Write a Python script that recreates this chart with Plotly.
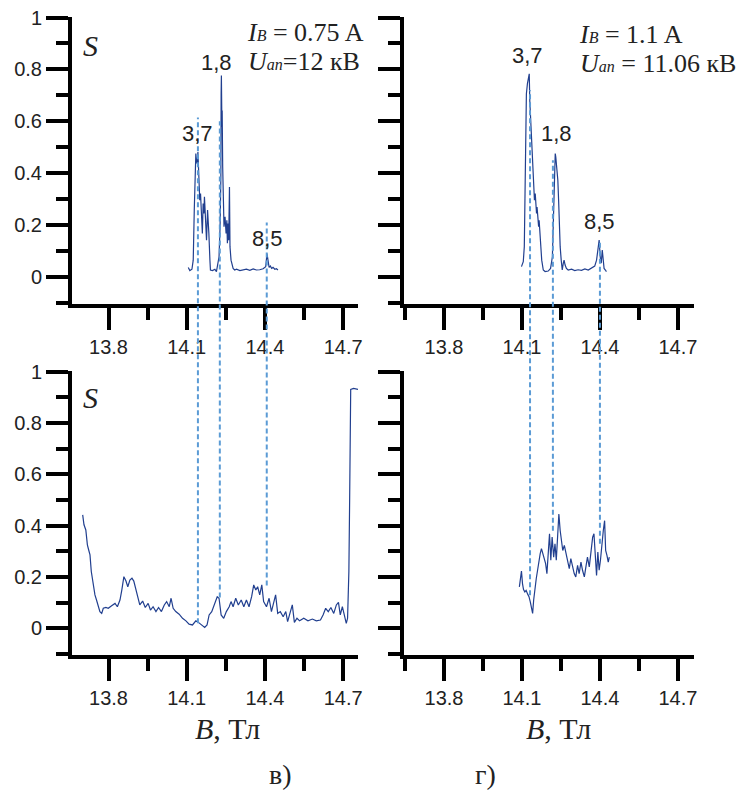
import plotly.graph_objects as go

# spectra, B in T, S relative
top_left_b = [14.106, 14.112, 14.120, 14.125, 14.129, 14.132, 14.135, 14.137, 14.140, 14.143,
              14.145, 14.148, 14.150, 14.153, 14.155, 14.158, 14.160, 14.163, 14.166, 14.168,
              14.172, 14.176, 14.180, 14.182, 14.185, 14.189, 14.191, 14.199, 14.208, 14.214,
              14.219, 14.224, 14.228, 14.231, 14.232, 14.233, 14.235, 14.236, 14.238, 14.241,
              14.243, 14.247, 14.251, 14.254, 14.256, 14.259, 14.261, 14.264, 14.266, 14.270,
              14.274, 14.278, 14.284, 14.291, 14.304, 14.316, 14.329, 14.342, 14.355, 14.367,
              14.380, 14.393, 14.403, 14.408, 14.412, 14.416, 14.421, 14.426, 14.431, 14.438,
              14.444, 14.450]
top_left_s = [0.037, 0.025, 0.030, 0.065, 0.258, 0.424, 0.476, 0.450, 0.437, 0.482,
              0.412, 0.347, 0.296, 0.322, 0.283, 0.232, 0.168, 0.283, 0.245, 0.309,
              0.219, 0.142, 0.258, 0.232, 0.168, 0.065, 0.027, 0.025, 0.030, 0.021,
              0.046, 0.078, 0.194, 0.386, 0.706, 0.777, 0.578, 0.642, 0.424, 0.335,
              0.194, 0.232, 0.168, 0.219, 0.130, 0.206, 0.142, 0.347, 0.117, 0.065,
              0.053, 0.033, 0.027, 0.030, 0.025, 0.027, 0.030, 0.026, 0.031, 0.027,
              0.028, 0.032, 0.040, 0.090, 0.050, 0.037, 0.042, 0.033, 0.037, 0.030,
              0.032, 0.027]

top_right_b = [14.098, 14.105, 14.109, 14.112, 14.115, 14.117, 14.121, 14.128, 14.130, 14.133,
               14.135, 14.138, 14.141, 14.143, 14.146, 14.148, 14.151, 14.153, 14.156, 14.158,
               14.161, 14.164, 14.166, 14.169, 14.173, 14.176, 14.182, 14.189, 14.201, 14.210,
               14.217, 14.223, 14.225, 14.228, 14.230, 14.233, 14.235, 14.238, 14.241, 14.243,
               14.247, 14.251, 14.255, 14.259, 14.262, 14.266, 14.271, 14.278, 14.291, 14.303,
               14.316, 14.329, 14.342, 14.355, 14.367, 14.380, 14.387, 14.393, 14.397, 14.401,
               14.405, 14.409, 14.412, 14.416, 14.421, 14.425]
top_right_s = [0.040, 0.059, 0.117, 0.450, 0.642, 0.706, 0.745, 0.783, 0.681, 0.617,
               0.578, 0.501, 0.450, 0.412, 0.347, 0.296, 0.322, 0.283, 0.245, 0.270,
               0.232, 0.194, 0.219, 0.168, 0.117, 0.065, 0.027, 0.021, 0.023, 0.033,
               0.078, 0.296, 0.450, 0.476, 0.463, 0.437, 0.424, 0.373, 0.296, 0.194,
               0.117, 0.065, 0.027, 0.053, 0.065, 0.046, 0.033, 0.027, 0.030, 0.025,
               0.028, 0.026, 0.031, 0.027, 0.033, 0.042, 0.065, 0.117, 0.142, 0.078,
               0.053, 0.104, 0.065, 0.033, 0.027, 0.021]

bottom_left_b = [13.701, 13.706, 13.713, 13.719, 13.724, 13.729, 13.734, 13.742, 13.748, 13.754,
                 13.761, 13.767, 13.774, 13.780, 13.790, 13.799, 13.812, 13.825, 13.834, 13.844,
                 13.851, 13.859, 13.867, 13.874, 13.882, 13.890, 13.897, 13.905, 13.913, 13.920,
                 13.931, 13.941, 13.952, 13.961, 13.971, 13.982, 13.992, 14.003, 14.014, 14.023,
                 14.033, 14.040, 14.048, 14.058, 14.071, 14.084, 14.097, 14.109, 14.122, 14.135,
                 14.145, 14.155, 14.169, 14.178, 14.186, 14.196, 14.206, 14.217, 14.224, 14.232,
                 14.242, 14.252, 14.263, 14.270, 14.278, 14.288, 14.298, 14.309, 14.319, 14.329,
                 14.339, 14.349, 14.357, 14.365, 14.372, 14.380, 14.388, 14.395, 14.406, 14.416,
                 14.425, 14.434, 14.441, 14.449, 14.459, 14.470, 14.480, 14.487, 14.498, 14.505,
                 14.513, 14.523, 14.533, 14.549, 14.565, 14.582, 14.597, 14.613, 14.623, 14.633,
                 14.643, 14.653, 14.664, 14.674, 14.682, 14.689, 14.697, 14.705, 14.712, 14.717,
                 14.720, 14.722, 14.725, 14.727, 14.729, 14.740, 14.757]
bottom_left_s = [0.442, 0.403, 0.383, 0.325, 0.305, 0.286, 0.221, 0.169, 0.130, 0.110,
                 0.084, 0.065, 0.058, 0.078, 0.081, 0.078, 0.088, 0.097, 0.084, 0.110,
                 0.149, 0.201, 0.184, 0.162, 0.188, 0.195, 0.184, 0.149, 0.117, 0.091,
                 0.106, 0.081, 0.097, 0.071, 0.084, 0.065, 0.081, 0.065, 0.091, 0.104,
                 0.084, 0.117, 0.078, 0.065, 0.055, 0.039, 0.029, 0.016, 0.013, 0.029,
                 0.023, 0.013, 0.003, 0.013, 0.052, 0.065, 0.091, 0.123, 0.117, 0.052,
                 0.039, 0.065, 0.084, 0.104, 0.084, 0.117, 0.091, 0.110, 0.084, 0.110,
                 0.084, 0.123, 0.169, 0.149, 0.162, 0.130, 0.169, 0.104, 0.084, 0.117,
                 0.065, 0.104, 0.130, 0.058, 0.065, 0.045, 0.065, 0.026, 0.065, 0.091,
                 0.023, 0.039, 0.029, 0.039, 0.029, 0.036, 0.029, 0.032, 0.052, 0.078,
                 0.065, 0.081, 0.058, 0.091, 0.101, 0.052, 0.084, 0.045, 0.019, 0.039,
                 0.117, 0.221, 0.506, 0.779, 0.930, 0.934, 0.930]

bottom_right_b = [14.090, 14.093, 14.098, 14.102, 14.106, 14.111, 14.116, 14.122, 14.127, 14.132,
                  14.137, 14.141, 14.145, 14.150, 14.155, 14.160, 14.165, 14.170, 14.175, 14.181,
                  14.186, 14.191, 14.196, 14.201, 14.206, 14.211, 14.216, 14.222, 14.227, 14.232,
                  14.237, 14.242, 14.247, 14.252, 14.257, 14.263, 14.269, 14.275, 14.282, 14.288,
                  14.295, 14.301, 14.307, 14.314, 14.320, 14.327, 14.333, 14.340, 14.346, 14.352,
                  14.359, 14.365, 14.372, 14.377, 14.382, 14.387, 14.392, 14.397, 14.402, 14.407,
                  14.413, 14.418, 14.422, 14.427, 14.432, 14.436]
bottom_right_s = [0.161, 0.194, 0.223, 0.174, 0.151, 0.142, 0.148, 0.133, 0.123, 0.103,
                  0.077, 0.058, 0.110, 0.161, 0.194, 0.226, 0.265, 0.290, 0.310, 0.290,
                  0.277, 0.252, 0.213, 0.290, 0.368, 0.265, 0.355, 0.277, 0.329, 0.265,
                  0.381, 0.445, 0.381, 0.329, 0.303, 0.323, 0.290, 0.265, 0.232, 0.271,
                  0.239, 0.213, 0.200, 0.245, 0.213, 0.258, 0.226, 0.200, 0.239, 0.277,
                  0.239, 0.290, 0.355, 0.368, 0.277, 0.206, 0.297, 0.226, 0.265, 0.329,
                  0.381, 0.419, 0.303, 0.284, 0.258, 0.277]

# dashed markers: B position, S where it starts (upper plot) and ends (lower plot)
left_marks_b = [14.143, 14.227, 14.407]
left_marks_top = [0.615, 0.60, 0.21]
left_marks_bottom = [0.02, 0.12, 0.167]
right_marks_b = [14.131, 14.219, 14.400]
right_marks_top = [0.72, 0.45, 0.14]
right_marks_bottom = [0.129, 0.38, 0.329]

left_peak_labels = ["3,7", "1,8", "8,5"]
left_peak_x = [14.143, 14.216, 14.411]
left_peak_y = [0.554, 0.827, 0.15]
right_peak_labels = ["3,7", "1,8", "8,5"]
right_peak_x = [14.123, 14.231, 14.400]
right_peak_y = [0.854, 0.554, 0.215]

W, H = 742, 791
curve_color = "#213f8f"
dash_color = "#5b9bd5"

left_dom = [72 / W, 358 / W]
right_dom = [404 / W, 694 / W]
top_dom = [1 - 304 / H, 1 - 17 / H]
bot_dom = [1 - 655 / H, 1 - 371 / H]
left_rng = [13.66, 14.757]
right_rng = [13.646, 14.762]
y_rng = [-0.104, 1.002]


def to_paper(v, dom):
    return dom[0] + (v - y_rng[0]) / (y_rng[1] - y_rng[0]) * (dom[1] - dom[0])


fig = go.Figure()
line = dict(color=curve_color, width=1.2)
fig.add_trace(go.Scatter(x=top_left_b, y=top_left_s, mode="lines", line=line, xaxis="x", yaxis="y"))
fig.add_trace(go.Scatter(x=top_right_b, y=top_right_s, mode="lines", line=line, xaxis="x2", yaxis="y2"))
fig.add_trace(go.Scatter(x=bottom_left_b, y=bottom_left_s, mode="lines", line=line, xaxis="x3", yaxis="y3"))
fig.add_trace(go.Scatter(x=bottom_right_b, y=bottom_right_s, mode="lines", line=line, xaxis="x4", yaxis="y4"))

tick_font = dict(family="Arial, Liberation Sans", size=20, color="#222")
xax = dict(showline=True, linewidth=4, linecolor="black", ticks="outside", ticklen=22,
           tickwidth=4, tickcolor="black", tick0=13.8, dtick=0.3, showgrid=False,
           zeroline=False, tickfont=tick_font, automargin=False,
           minor=dict(ticks="outside", ticklen=12, tickwidth=4, tickcolor="black", dtick=0.15, tick0=13.8))
yax = dict(showline=True, linewidth=4, linecolor="black", ticks="outside", ticklen=22,
           tickwidth=4, tickcolor="black", tick0=0, dtick=0.2, showgrid=False,
           zeroline=False, tickfont=tick_font, range=y_rng, automargin=False,
           minor=dict(ticks="outside", ticklen=12, tickwidth=4, tickcolor="black", dtick=0.1, tick0=0))

fig.update_layout(
    width=W, height=H, margin=dict(l=0, r=0, t=0, b=0, autoexpand=False),
    paper_bgcolor="white", plot_bgcolor="white", showlegend=False,
    xaxis=dict(xax, domain=left_dom, range=left_rng, anchor="y"),
    yaxis=dict(yax, domain=top_dom, anchor="x"),
    xaxis2=dict(xax, domain=right_dom, range=right_rng, anchor="y2"),
    yaxis2=dict(yax, domain=top_dom, anchor="x2", showticklabels=False),
    xaxis3=dict(xax, domain=left_dom, range=left_rng, anchor="y3"),
    yaxis3=dict(yax, domain=bot_dom, anchor="x3"),
    xaxis4=dict(xax, domain=right_dom, range=right_rng, anchor="y4"),
    yaxis4=dict(yax, domain=bot_dom, anchor="x4", showticklabels=False),
)

# dashed lines running from the upper plot down to the lower one
for xref, bs, tops, bots in [("x", left_marks_b, left_marks_top, left_marks_bottom),
                             ("x2", right_marks_b, right_marks_top, right_marks_bottom)]:
    for b, t, s in zip(bs, tops, bots):
        fig.add_shape(type="line", xref=xref, yref="paper", x0=b, x1=b,
                      y0=to_paper(s, bot_dom), y1=to_paper(t, top_dom),
                      line=dict(color=dash_color, width=2, dash="5px,3px"))

peak_font = dict(family="Arial, Liberation Sans", size=22, color="#222")
for txt, x, y in zip(left_peak_labels, left_peak_x, left_peak_y):
    fig.add_annotation(text=txt, x=x, y=y, xref="x", yref="y", showarrow=False, font=peak_font)
for txt, x, y in zip(right_peak_labels, right_peak_x, right_peak_y):
    fig.add_annotation(text=txt, x=x, y=y, xref="x2", yref="y2", showarrow=False, font=peak_font)

small = "<span style='font-size:16px'><i>{}</i></span>"
serif = dict(family="Liberation Serif, Times New Roman", size=26, color="#222")
notes = [
    ("<i>I</i>" + small.format("B") + " = 0.75 A", 245, 33),
    ("<i>U</i>" + small.format("an") + "=12 кВ", 246, 62),
    ("<i>I</i>" + small.format("B") + " = 1.1 A", 577, 35),
    ("<i>U</i>" + small.format("an") + " = 11.06 кВ", 578, 63),
]
for txt, px, py in notes:
    fig.add_annotation(text=txt, x=px / W, y=1 - py / H, xref="paper", yref="paper",
                       xanchor="left", yanchor="middle", showarrow=False, font=serif)

for py in [45, 398]:
    fig.add_annotation(text="<i>S</i>", x=90 / W, y=1 - py / H, xref="paper", yref="paper",
                       xanchor="center", yanchor="middle", showarrow=False, font=dict(serif, size=30))

for px in [227, 558]:
    fig.add_annotation(text="<i>B</i>, Тл", x=px / W, y=1 - 728 / H, xref="paper", yref="paper",
                       xanchor="center", yanchor="middle", showarrow=False, font=dict(serif, size=30))

for txt, px in [("в)", 280), ("г)", 485)]:
    fig.add_annotation(text=txt, x=px / W, y=1 - 774 / H, xref="paper", yref="paper",
                       xanchor="center", yanchor="middle", showarrow=False, font=dict(serif, size=28))

fig.write_html("out.html", config={"displayModeBar": False},
               post_script="document.body.style.margin='0';")
